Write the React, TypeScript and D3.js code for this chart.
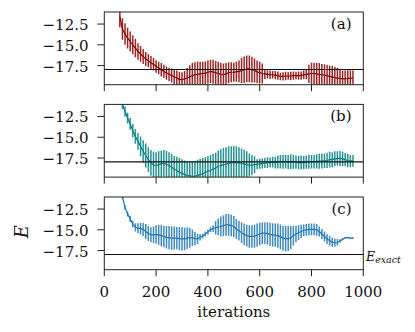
import * as d3 from 'd3';

// iteration index of every sample (same for all three panels)
const iterations = [
  60, 70, 80, 90, 100, 110, 120, 130, 140, 150,
  160, 170, 180, 190, 200, 210, 220, 230, 240, 250,
  260, 270, 280, 290, 300, 310, 320, 330, 340, 350,
  360, 370, 380, 390, 400, 410, 420, 430, 440, 450,
  460, 470, 480, 490, 500, 510, 520, 530, 540, 550,
  560, 570, 580, 590, 600, 610, 620, 630, 640, 650,
  660, 670, 680, 690, 700, 710, 720, 730, 740, 750,
  760, 770, 780, 790, 800, 810, 820, 830, 840, 850,
  860, 870, 880, 890, 900, 910, 920, 930, 940, 950, 960,
];

// (a)
const meanA = [
  -11.6, -13.1, -13.7, -14.2, -14.6, -15.0, -15.4, -15.8, -16.1, -16.4,
  -16.7, -16.9, -17.15, -17.35, -17.6, -17.8, -18.0, -18.2, -18.4, -18.55,
  -18.7, -18.85, -19.0, -19.15, -19.2, -19.1, -19.0, -18.85, -18.7, -18.6,
  -18.55, -18.5, -18.45, -18.4, -18.3, -18.2, -18.25, -18.35, -18.45, -18.55,
  -18.6, -18.5, -18.35, -18.3, -18.3, -18.25, -18.2, -18.1, -18.0, -17.9,
  -17.9, -18.0, -18.1, -18.25, -18.35, -18.45, -18.5, -18.55, -18.6, -18.6,
  -18.65, -18.7, -18.8, -18.8, -18.75, -18.75, -18.75, -18.7, -18.7, -18.7,
  -18.7, -18.6, -18.55, -18.5, -18.45, -18.45, -18.5, -18.55, -18.6, -18.65,
  -18.7, -18.8, -18.85, -18.95, -19.0, -19.05, -19.1, -19.1, -19.05, -19.0, -19.0,
];
const errA = [
  1.3, 1.3, 1.3, 1.25, 1.2, 1.15, 1.1, 1.0, 0.95, 0.9,
  0.85, 0.8, 0.8, 0.75, 0.75, 0.75, 0.8, 0.8, 0.8, 0.8,
  0.85, 0.9, 0.9, 0.9, 0.9, 0.95, 1.2, 1.4, 1.5, 1.5,
  1.5, 1.45, 1.4, 1.4, 1.4, 1.4, 1.45, 1.4, 1.4, 1.4,
  1.35, 1.3, 1.25, 1.2, 1.15, 1.2, 1.3, 1.5, 1.6, 1.6,
  1.6, 1.55, 1.45, 1.35, 1.3, 1.2, 0.6, 0.5, 0.5, 0.45,
  0.5, 0.5, 0.45, 0.5, 0.5, 0.45, 0.5, 0.5, 0.45, 0.5,
  0.5, 0.5, 0.6, 1.1, 1.3, 1.3, 1.3, 1.35, 1.3, 1.3,
  1.3, 1.3, 1.3, 1.3, 1.25, 1.1, 1.0, 1.0, 1.0, 0.95, 0.9,
];

// (b)
const meanB = [
  -10.2, -11.0, -11.9, -12.7, -13.4, -14.2, -14.9, -15.5, -16.1, -16.7,
  -17.2, -17.7, -18.1, -18.35, -18.4, -18.3, -18.2, -18.15, -18.25, -18.4,
  -18.6, -18.85, -19.0, -19.2, -19.35, -19.5, -19.6, -19.65, -19.7, -19.7,
  -19.6, -19.5, -19.4, -19.25, -19.1, -19.0, -18.85, -18.7, -18.5, -18.4,
  -18.3, -18.25, -18.15, -18.1, -18.05, -18.05, -18.1, -18.15, -18.2, -18.3,
  -18.35, -18.35, -18.3, -18.25, -18.2, -18.15, -18.1, -18.05, -18.05, -18.0,
  -18.05, -18.0, -17.95, -17.95, -17.95, -18.0, -17.95, -17.95, -18.0, -18.05,
  -18.05, -18.05, -18.0, -17.95, -17.95, -17.95, -17.9, -17.9, -17.85, -17.85,
  -17.8, -17.7, -17.7, -17.6, -17.55, -17.55, -17.6, -17.7, -17.8, -17.85, -17.85,
];
const errB = [
  0.6, 0.6, 0.6, 0.65, 0.7, 0.8, 0.9, 1.0, 1.2, 1.35,
  1.45, 1.5, 1.55, 1.6, 1.6, 1.6, 1.6, 1.6, 1.6, 1.6,
  1.6, 1.6, 1.65, 1.7, 1.7, 1.7, 1.75, 1.75, 1.8, 1.85,
  1.9, 1.9, 1.9, 1.85, 1.85, 1.85, 1.85, 1.85, 1.9, 1.95,
  2.0, 2.05, 2.05, 2.0, 2.0, 1.95, 1.9, 1.8, 1.7, 1.6,
  1.4, 1.2, 1.0, 0.6, 0.6, 0.6, 0.6, 0.65, 0.6, 0.65,
  0.7, 0.75, 0.8, 0.85, 0.8, 0.85, 0.9, 0.85, 0.8, 0.8,
  0.85, 0.8, 0.8, 0.85, 0.8, 0.8, 0.85, 0.9, 0.9, 0.85,
  0.9, 0.95, 0.9, 0.9, 0.85, 0.9, 0.85, 0.8, 0.8, 0.75, 0.7,
];

// (c)
const meanC = [
  -10.5, -11.0, -12.3, -13.1, -13.7, -14.3, -14.7, -14.8, -14.85, -14.95,
  -15.2, -15.45, -15.6, -15.6, -15.55, -15.6, -15.7, -15.8, -15.9, -15.95,
  -16.0, -16.0, -16.0, -16.05, -16.1, -16.1, -16.0, -15.95, -15.95, -16.05,
  -16.1, -15.9, -15.75, -15.5, -15.25, -15.0, -14.85, -14.75, -14.65, -14.6,
  -14.5, -14.4, -14.4, -14.5, -14.6, -14.9, -15.1, -15.35, -15.55, -15.7,
  -15.8, -15.8, -15.75, -15.65, -15.5, -15.4, -15.4, -15.45, -15.55, -15.6,
  -15.65, -15.7, -15.85, -16.0, -16.05, -16.05, -15.95, -15.7, -15.5, -15.35,
  -15.2, -15.05, -15.0, -14.95, -14.95, -14.95, -15.0, -15.2, -15.5, -15.8,
  -16.1, -16.3, -16.5, -16.55, -16.5, -16.35, -16.15, -15.95, -15.95, -16.0, -16.0,
];
const errC = [
  0.3, 0.3, 0.3, 0.3, 0.35, 0.4, 0.5, 0.6, 0.7, 0.8,
  0.9, 0.9, 0.9, 1.0, 1.1, 1.2, 1.3, 1.3, 1.35, 1.4,
  1.4, 1.4, 1.35, 1.4, 1.4, 1.35, 1.3, 1.2, 1.0, 0.8,
  0.6, 0.4, 0.3, 0.3, 0.3, 0.3, 0.4, 0.8, 1.0, 1.2,
  1.25, 1.3, 1.3, 1.3, 1.25, 1.2, 1.2, 1.25, 1.3, 1.3,
  1.35, 1.35, 1.4, 1.4, 1.35, 1.3, 1.3, 1.35, 1.4, 1.4,
  1.4, 1.45, 1.5, 1.5, 1.55, 1.5, 1.4, 1.2, 1.0, 0.9,
  0.8, 0.7, 0.7, 0.7, 0.7, 0.7, 0.7, 0.6, 0.6, 0.6,
  0.6, 0.6, 0.55, 0.5, 0.4, 0.2, 0.1, 0.1, 0.1, 0.1, 0.1,
];

const E_EXACT = -17.97;
const yTicks = [-12.5, -15.0, -17.5];
const xTicks = [0, 200, 400, 600, 800, 1000];
const panelLabels = ['(a)', '(b)', '(c)'];
const panelColors = ['#8b0000', '#008080', '#1f77b4'];

const panels = [
  { mean: meanA, err: errA },
  { mean: meanB, err: errB },
  { mean: meanC, err: errC },
];

const W = 415;
const H = 332;
const left = 104.3;
const right = 363.3;
const panelTops = [12, 104.4, 197];
const panelH = 72.7;
const font = 'DejaVu Serif';

export default function App() {
  const x = d3.scaleLinear().domain([0, 1000]).range([left, right]);
  const fmt = d3.format('.1f');

  return (
    <svg width={W} height={H} style={{ position: 'absolute', left: 0, top: 0, background: '#fff' }}
      fontFamily={font}>
      <defs>
        {panelTops.map((top, i) => (
          <clipPath id={`clip${i}`} key={i}>
            <rect x={left} y={top} width={right - left} height={panelH} />
          </clipPath>
        ))}
      </defs>
      {panels.map((p, i) => {
        const top = panelTops[i];
        const y = d3.scaleLinear().domain([-19.8, -11.05]).range([top + panelH, top]);
        const line = d3.line<number>()
          .x((_, j) => x(iterations[j]))
          .y(d => y(d));
        const color = panelColors[i];
        return (
          <g key={i}>
            <g clipPath={`url(#clip${i})`}>
              {p.mean.map((m, j) => (
                <line key={j} x1={x(iterations[j])} x2={x(iterations[j])}
                  y1={y(m - p.err[j])} y2={y(m + p.err[j])}
                  stroke={color} strokeWidth={1.5} strokeOpacity={0.85} />
              ))}
              <path d={line(p.mean) || ''} fill="none" stroke={color} strokeWidth={1.2} />
            </g>
            <line x1={left} x2={right} y1={y(E_EXACT)} y2={y(E_EXACT)} stroke="#111" strokeWidth={1.1} />
            <rect x={left} y={top} width={right - left} height={panelH} fill="none" stroke="#222" strokeWidth={1} />
            {yTicks.map(t => (
              <g key={t}>
                <line x1={left - 7} x2={left} y1={y(t)} y2={y(t)} stroke="#222" strokeWidth={1} />
                <text x={88.5} y={y(t) + 6} textAnchor="end" fontSize={15} fill="#111">{fmt(t)}</text>
              </g>
            ))}
            {xTicks.map(t => (
              <line key={t} x1={x(t)} x2={x(t)} y1={top + panelH} y2={top + panelH + 6.5} stroke="#222" strokeWidth={1} />
            ))}
            <text x={351.5} y={top + 17} textAnchor="end" fontSize={15} fill="#111">{panelLabels[i]}</text>
            {i === 2 && (
              <>
                {xTicks.map(t => (
                  <text key={t} x={x(t)} y={297} textAnchor="middle" fontSize={15} fill="#111">{t}</text>
                ))}
                <text x={366} y={261} fontSize={12.5} fontStyle="italic" fill="#111">
                  E<tspan fontSize={9.5} dy={1.5}>exact</tspan>
                </text>
              </>
            )}
          </g>
        );
      })}
      <text x={(left + right) / 2} y={316.5} textAnchor="middle" fontSize={15} fill="#111">iterations</text>
      <text transform="translate(28.3,231.7) rotate(-90)" textAnchor="middle" fontSize={18} fontStyle="italic" fill="#111">E</text>
    </svg>
  );
}
